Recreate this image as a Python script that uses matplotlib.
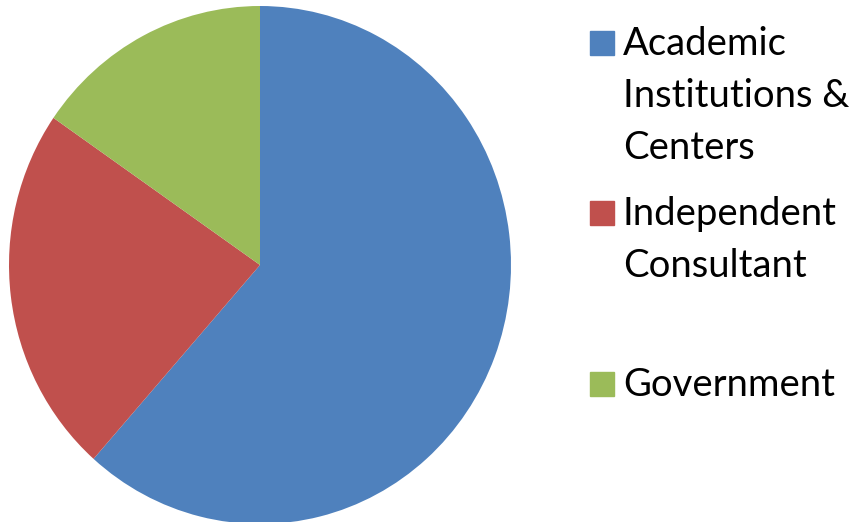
import matplotlib
matplotlib.use("Agg")
import matplotlib.pyplot as plt
from matplotlib.patches import Rectangle

labels = ["Academic\nInstitutions &\nCenters", "Independent\nConsultant", "Government"]
values = [8, 3, 2]
colors = ["#4F81BD", "#C0504D", "#9BBB59"]

W, H = 860, 522
fig = plt.figure(figsize=(W / 100, H / 100), dpi=100)

# pie axes (slightly elliptical, as in the reference)
ax = fig.add_axes([9 / W, (H - 524) / H, 502 / W, 518 / H])
ax.pie(values, colors=colors, startangle=90, counterclock=False,
       wedgeprops=dict(linewidth=0))
ax.set_aspect("auto")
ax.set_xlim(-1, 1)
ax.set_ylim(-1, 1)
ax.axis("off")

# legend drawn manually
font = "Lato"
fs = 27.5
first_baselines = [55, 225, 396]
line_step = 52
for lab, col, b in zip(labels, colors, first_baselines):
    fig.patches.append(Rectangle((590 / W, 1 - b / H), 24 / W, 24 / H,
                                 transform=fig.transFigure, color=col))
    for i, line in enumerate(lab.split("\n")):
        y = b + i * line_step
        fig.text(623 / W, 1 - y / H, line, fontsize=fs, family=font,
                 va="baseline", ha="left", color="black")

fig.savefig("out.png", dpi=100)
